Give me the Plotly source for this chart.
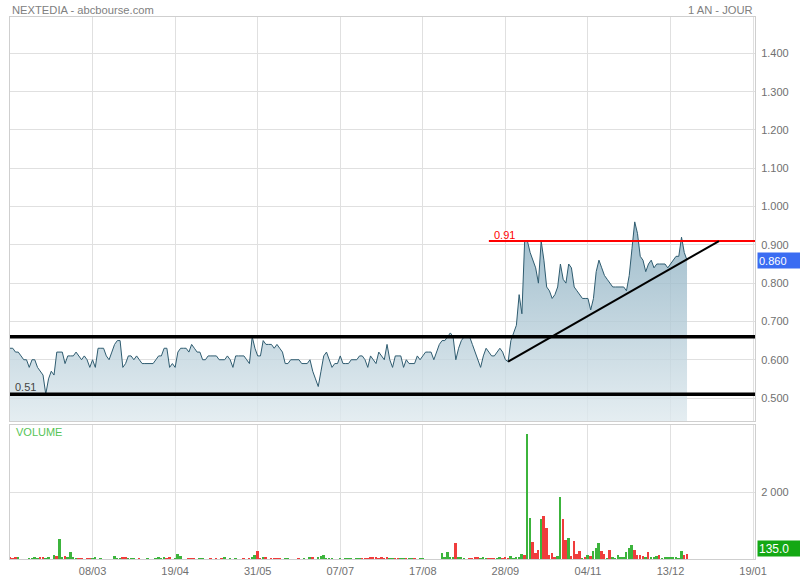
import plotly.graph_objects as go

# ---------------- data ----------------
prices = [
    0.63, 0.63, 0.62, 0.62, 0.61, 0.60, 0.60, 0.58, 0.60, 0.60,
    0.58, 0.57, 0.56, 0.51, 0.55, 0.57, 0.56, 0.62, 0.62, 0.62,
    0.59, 0.61, 0.61, 0.61, 0.62, 0.61, 0.60, 0.61, 0.60, 0.58,
    0.60, 0.58, 0.63, 0.63, 0.63, 0.61, 0.60, 0.62, 0.64, 0.65,
    0.65, 0.58, 0.59, 0.61, 0.61, 0.60, 0.61, 0.60, 0.59, 0.59,
    0.59, 0.59, 0.59, 0.60, 0.61, 0.61, 0.63, 0.63, 0.58, 0.59,
    0.58, 0.62, 0.63, 0.63, 0.63, 0.62, 0.64, 0.63, 0.62, 0.62,
    0.60, 0.60, 0.61, 0.61, 0.61, 0.61, 0.60, 0.60, 0.60, 0.61,
    0.60, 0.58, 0.61, 0.61, 0.61, 0.61, 0.60, 0.59, 0.66, 0.63,
    0.61, 0.61, 0.65, 0.64, 0.64, 0.64, 0.63, 0.64, 0.63, 0.62,
    0.59, 0.59, 0.60, 0.60, 0.60, 0.60, 0.59, 0.59, 0.59, 0.60,
    0.57, 0.55, 0.53, 0.57, 0.61, 0.62, 0.60, 0.58, 0.59, 0.59,
    0.61, 0.59, 0.59, 0.59, 0.60, 0.60, 0.60, 0.61, 0.61, 0.60,
    0.58, 0.61, 0.60, 0.59, 0.62, 0.61, 0.60, 0.64, 0.60, 0.58,
    0.61, 0.61, 0.61, 0.58, 0.60, 0.59, 0.59, 0.59, 0.61, 0.60,
    0.61, 0.62, 0.62, 0.62, 0.60, 0.62, 0.64, 0.65, 0.65, 0.66,
    0.67, 0.66, 0.60, 0.63, 0.65, 0.66, 0.66, 0.66, 0.64, 0.62,
    0.60, 0.58, 0.61, 0.63, 0.62, 0.61, 0.61, 0.62, 0.63, 0.62,
    0.60, 0.595, 0.65, 0.67, 0.69, 0.77, 0.72, 0.91, 0.91, 0.88,
    0.86, 0.84, 0.80, 0.91, 0.86, 0.79, 0.78, 0.76, 0.77, 0.79,
    0.85, 0.81, 0.80, 0.85, 0.84, 0.79, 0.78, 0.77, 0.76, 0.76,
    0.76, 0.73, 0.76, 0.83, 0.86, 0.84, 0.82, 0.81, 0.80, 0.79,
    0.79, 0.79, 0.79, 0.79, 0.78, 0.82, 0.89, 0.96, 0.93, 0.87,
    0.86, 0.83, 0.85, 0.86, 0.84, 0.85, 0.85, 0.85, 0.85, 0.84,
    0.85, 0.86, 0.87, 0.87, 0.92, 0.88, 0.86,
]

volumes = [
    30, 20, 40, 30, 0, 0, 0, 20, 20, 30, 20, 40, 30, 20, 30, 0, 130, 80, 600, 60,
    100, 40, 220, 40, 20, 20, 20, 0, 20, 20, 20, 30, 0, 20, 0, 0, 0, 0, 80, 20,
    20, 70, 30, 20, 20, 20, 0, 20, 0, 0, 20, 0, 0, 20, 30, 20, 30, 20, 70, 0,
    20, 160, 100, 0, 0, 20, 20, 20, 0, 20, 20, 0, 0, 20, 0, 20, 0, 20, 40, 0,
    20, 0, 20, 0, 0, 20, 0, 20, 30, 110, 240, 20, 50, 50, 0, 20, 20, 20, 20, 0,
    20, 20, 0, 0, 0, 20, 0, 20, 0, 40, 40, 0, 40, 80, 110, 20, 20, 20, 0, 0,
    20, 0, 20, 20, 20, 0, 20, 20, 20, 20, 20, 40, 40, 40, 20, 40, 20, 40, 20, 20,
    20, 20, 20, 20, 20, 20, 20, 20, 0, 20, 20, 0, 0, 0, 0, 0, 0, 180, 30, 210,
    40, 30, 480, 50, 30, 20, 0, 20, 20, 50, 60, 20, 40, 20, 20, 20, 20, 20, 60, 20,
    30, 20, 80, 20, 40, 30, 150, 130,
    3720, 1220, 500, 180, 280, 1180, 1280, 930, 110, 180, 30, 80, 1860, 1200, 580, 630, 100, 530, 160, 250,
    20, 50, 130, 80, 230, 320, 470, 250, 150, 20, 270, 30, 20, 110, 30, 50, 220, 320, 430, 270,
    130, 110, 100, 50, 210, 30, 40, 100, 130, 20, 40, 40, 40, 30, 40, 20, 240, 120, 135,
]

# 1 = rising session (green), 0 = falling session (red)
volume_up = [
    0, 0, 0, 1, 1, 1, 1, 1, 1, 1, 1, 0, 0, 1, 1, 1, 1, 0, 1, 1,
    0, 1, 1, 1, 1, 0, 0, 1, 0, 0, 1, 1, 1, 1, 1, 1, 1, 1, 1, 1,
    1, 0, 0, 1, 1, 1, 1, 0, 1, 1, 1, 1, 1, 1, 1, 1, 1, 0, 0, 1,
    1, 1, 1, 1, 1, 0, 0, 0, 1, 1, 1, 1, 1, 0, 1, 0, 1, 0, 1, 1,
    1, 1, 1, 1, 1, 0, 1, 0, 1, 1, 0, 0, 1, 0, 1, 0, 0, 0, 0, 1,
    1, 1, 1, 1, 1, 0, 1, 1, 1, 1, 0, 1, 1, 1, 1, 1, 1, 1, 1, 1,
    1, 1, 1, 1, 1, 1, 1, 1, 0, 0, 0, 0, 0, 0, 0, 0, 0, 0, 1, 1,
    0, 0, 1, 1, 0, 1, 1, 0, 1, 1, 1, 1, 1, 1, 1, 1, 1, 1, 1, 1,
    1, 1, 0, 1, 1, 1, 1, 0, 0, 0, 0, 1, 1, 1, 0, 0, 0, 1, 1, 0,
    0, 0, 1, 1, 1, 1, 1, 0,
    1, 1, 0, 0, 0, 1, 0, 0, 0, 0, 0, 1, 1, 0, 0, 1, 0, 0, 0, 0,
    1, 0, 1, 0, 1, 1, 1, 0, 0, 1, 0, 1, 1, 1, 1, 1, 1, 1, 1, 0,
    0, 0, 0, 1, 0, 1, 1, 1, 0, 1, 1, 1, 1, 1, 1, 1, 1, 0, 0,
]

date_tick_index = [30, 60, 90, 120, 150, 180, 210, 240, 270]
date_tick_labels = ["08/03", "19/04", "31/05", "07/07", "17/08", "28/09", "04/11", "13/12", "19/01"]
price_ticks = [0.5, 0.6, 0.7, 0.8, 0.9, 1.0, 1.1, 1.2, 1.3, 1.4]
price_tick_labels = ["0.500", "0.600", "0.700", "0.800", "0.900", "1.000", "1.100", "1.200", "1.300", "1.400"]
volume_ticks = [2000]
volume_tick_labels = ["2 000"]

# drawn analysis lines
support_levels = [0.66, 0.51]
resistance_level = 0.91
resistance_start = 174
trend_start = (181, 0.595)
trend_end = (257.6, 0.91)

# ---------------- figure ----------------
FONT = "Liberation Sans, Arial, sans-serif"
GRID = "#e0e0e0"
BORDER = "#cfcfcf"
TXT = "#707070"

idx = list(range(len(prices)))
vol_colors = ["#3cb43c" if u else "#f03c3c" for u in volume_up]

fig = go.Figure()

fig.add_trace(go.Scatter(
    x=idx, y=prices, mode="lines",
    line=dict(color="#2f5c70", width=1),
    fill="tozeroy",
    fillgradient=dict(
        type="vertical",
        colorscale=[[0, "rgba(222,233,238,0.8)"], [1, "rgba(135,172,191,0.8)"]],
        start=0.44, stop=0.96,
    ),
    xaxis="x", yaxis="y", hoverinfo="skip", showlegend=False,
))

fig.add_trace(go.Bar(
    x=idx, y=volumes, marker=dict(color=vol_colors, line=dict(width=0)),
    width=0.72, xaxis="x2", yaxis="y2", hoverinfo="skip", showlegend=False,
))

x_range = [0, 270.7]
vol_dom = [0, 0.2472]
price_dom = [0.2546, 1]

fig.update_layout(
    width=800, height=580,
    margin=dict(l=10, r=45, t=17, b=21, autoexpand=False),
    paper_bgcolor="white", plot_bgcolor="white",
    font=dict(family=FONT, size=11, color=TXT),
    bargap=0,
    xaxis=dict(domain=[0, 1], anchor="y", range=x_range, tickvals=date_tick_index,
               showticklabels=False, showgrid=True, gridcolor=GRID, zeroline=False,
               showline=True, mirror=True, linecolor=BORDER, ticks="", automargin=False),
    yaxis=dict(domain=price_dom, anchor="x", range=[0.44, 1.495], side="right",
               tickvals=price_ticks, ticktext=price_tick_labels, showgrid=True, gridcolor=GRID,
               zeroline=False, showline=True, mirror=True, linecolor=BORDER,
               ticks="outside", ticklen=3, tickcolor="rgba(0,0,0,0)", automargin=False,
               tickfont=dict(size=11, color=TXT)),
    xaxis2=dict(domain=[0, 1], anchor="y2", range=x_range, tickvals=date_tick_index,
                ticktext=date_tick_labels, showgrid=True, gridcolor=GRID, zeroline=False,
                showline=True, mirror=True, linecolor=BORDER, automargin=False,
                ticks="outside", ticklen=2, tickcolor="rgba(0,0,0,0)",
                tickfont=dict(size=11, color=TXT)),
    yaxis2=dict(domain=vol_dom, anchor="x2", range=[0, 4000], side="right",
                tickvals=volume_ticks, ticktext=volume_tick_labels, showgrid=True,
                gridcolor=GRID, zeroline=False, showline=True, mirror=True, automargin=False,
                linecolor=BORDER, ticks="outside", ticklen=3, tickcolor="rgba(0,0,0,0)",
                tickfont=dict(size=11, color=TXT)),
)

shapes = []
for lvl in support_levels:
    shapes.append(dict(type="line", xref="x domain", yref="y", x0=0, x1=1, y0=lvl, y1=lvl,
                       line=dict(color="black", width=3.5)))
shapes.append(dict(type="line", xref="x", yref="y", x0=resistance_start, x1=x_range[1],
                   y0=resistance_level, y1=resistance_level, line=dict(color="#ff0000", width=2)))
shapes.append(dict(type="line", xref="x", yref="y", x0=trend_start[0], y0=trend_start[1],
                   x1=trend_end[0], y1=trend_end[1], line=dict(color="black", width=2)))
fig.update_layout(shapes=shapes)

last_price = prices[-1]
last_vol = volumes[-1]

annotations = [
    dict(text="NEXTEDIA - abcbourse.com", xref="paper", yref="paper", x=0, y=1,
         xanchor="left", yanchor="bottom", showarrow=False, yshift=-1,
         font=dict(size=11.2, color="#808080")),
    dict(text="1 AN - JOUR", xref="paper", yref="paper", x=1, y=1,
         xanchor="right", yanchor="bottom", showarrow=False, yshift=-1,
         font=dict(size=11.2, color="#808080")),
    dict(text=f"{resistance_level:.2f}", xref="x", yref="y", x=resistance_start + 1, y=resistance_level,
         xanchor="left", yanchor="bottom", showarrow=False, yshift=-2,
         font=dict(size=11, color="#ff0000")),
    dict(text=f"{support_levels[1]:.2f}", xref="x", yref="y", x=1, y=support_levels[1],
         xanchor="left", yanchor="bottom", showarrow=False, yshift=-1,
         font=dict(size=11, color="#444444")),
    dict(text="VOLUME", xref="paper", yref="paper", x=0.006, y=vol_dom[1],
         xanchor="left", yanchor="top", showarrow=False, yshift=1,
         font=dict(size=11, color="#55c455")),
    dict(text=f"{last_price:.3f}", xref="paper", yref="y", x=1, y=last_price,
         xanchor="left", yanchor="middle", showarrow=False, xshift=2,
         width=40, height=13, align="left", bgcolor="#3a6cf2", borderpad=1,
         font=dict(size=11, color="white")),
    dict(text=f"{last_vol:.1f}", xref="paper", yref="y2", x=1, y=last_vol,
         xanchor="left", yanchor="middle", showarrow=False, xshift=2, yshift=6,
         width=40, height=13, align="left", bgcolor="#14a814", borderpad=1,
         font=dict(size=12, color="white")),
]
fig.update_layout(annotations=annotations)

fig.write_html("out.html", config={"displayModeBar": False},
               post_script="document.body.style.margin='0px';")
